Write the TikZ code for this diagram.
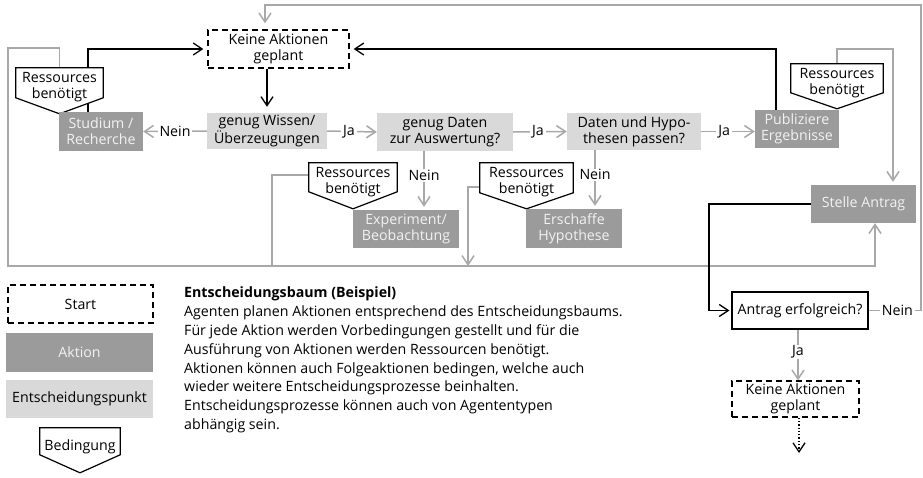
\documentclass[tikz,border=0pt]{standalone}
\usepackage{fontspec}
\setmainfont{Open Sans}
\usetikzlibrary{arrows.meta,calc}

\definecolor{actfill}{HTML}{9B9B9B}
\definecolor{acttext}{HTML}{F2F2F2}
\definecolor{decfill}{HTML}{D9D9D9}
\definecolor{flow}{HTML}{A8A8A8}

\pgfdeclarelayer{canvas}
\pgfdeclarelayer{back}
\pgfdeclarelayer{mid}
\pgfsetlayers{canvas,back,mid,main}

% outline of a condition shape (box with a downward point) around a text node
% #1 node, #2 height of the straight sides, #3 depth of the point
\newcommand\condoutline[3]{%
  \begin{pgfonlayer}{mid}
    \draw[condline] (#1.north west) -- (#1.north east) -- ([yshift=-#2]#1.north east)
      -- ([yshift=-#3]#1.north) -- ([yshift=-#2]#1.north west) -- cycle;
  \end{pgfonlayer}}

\begin{document}
\begin{tikzpicture}[x=1pt,y=-1pt,
  every node/.style={font=\fontsize{14.2}{16}\selectfont, align=center, inner sep=0pt},
  startbox/.style={draw=black, line width=1.3pt, dash pattern=on 6pt off 4pt, fill=white},
  actbox/.style={fill=actfill, text=acttext},
  decbox/.style={fill=decfill, text=black},
  askbox/.style={draw=black, line width=1.2pt, fill=white},
  condtext/.style={minimum height=38pt},
  condline/.style={draw=black, line width=1.2pt, fill=white, line join=miter},
  gline/.style={draw=flow, line width=1.5pt},
  garrow/.style={gline, -{Straight Barb[length=9pt,width=12pt]}},
  bline/.style={draw=black, line width=1.3pt},
  barrow/.style={bline, -{Straight Barb[length=9pt,width=12pt]}},
  lbl/.style={fill=white, inner xsep=2pt, inner ysep=1pt, text=black}]

\useasboundingbox (0,0) rectangle (923,477);
\begin{pgfonlayer}{canvas}
  \fill[white] (0,0) rectangle (923,477);
\end{pgfonlayer}

% ---- decision tree ----
\node[startbox, minimum width=141pt, minimum height=38pt] (keine1) at (278.5,49) {Keine Aktionen\\geplant};
\node[decbox, minimum width=120pt, minimum height=36pt] (wissen) at (267,131) {genug Wissen/\\Überzeugungen};
\node[actbox, minimum width=84pt, minimum height=39pt] (stud) at (101,131.5) {Studium /\\Recherche};
\node[decbox, minimum width=136pt, minimum height=38pt] (daten) at (445,132) {genug Daten\\zur Auswertung?};
\node[decbox, minimum width=134pt, minimum height=37pt] (hypo) at (634,131.5) {Daten und Hypo-\\thesen passen?};
\node[actbox, minimum width=84pt, minimum height=38pt] (publ) at (797,129) {Publiziere\\Ergebnisse};
\node[actbox, minimum width=106pt, minimum height=38pt] (exper) at (406,229) {Experiment/\\Beobachtung};
\node[actbox, minimum width=96pt, minimum height=39pt] (erschaffe) at (574,228.5) {Erschaffe\\Hypothese};
\node[actbox, minimum width=105pt, minimum height=38pt] (stelle) at (863.5,204) {Stelle Antrag};
\node[askbox, minimum width=136pt, minimum height=37pt] (antrag) at (800,310.5) {Antrag erfolgreich?};
\node[startbox, minimum width=127pt, minimum height=36pt] (keine2) at (795.5,399) {Keine Aktionen\\geplant};
\coordinate (weiter) at (799,453);

% resource conditions
\node[condtext, minimum width=87pt] (res1) at (59.5,87) {Ressources\\benötigt};
\condoutline{res1}{30pt}{46pt}
\node[condtext, minimum width=88pt] (res2) at (353,182) {Ressources\\benötigt};
\condoutline{res2}{29pt}{46pt}
\node[condtext, minimum width=93pt] (res3) at (526.5,182) {Ressources\\benötigt};
\condoutline{res3}{30pt}{46pt}
\node[condtext, minimum width=92pt] (res4) at (837,83) {Ressources\\benötigt};
\condoutline{res4}{29pt}{45pt}

% ---- legend ----
\node[startbox, minimum width=145pt, minimum height=38pt] (lstart) at (80.5,304) {Start};
\node[actbox, minimum width=147pt, minimum height=39pt] (laktion) at (79.5,352.5) {Aktion};
\node[decbox, minimum width=147pt, minimum height=38pt] (lentsch) at (79.5,399) {Entscheidungspunkt};
\node[condtext, minimum width=80pt] (lbed) at (80,447) {Bedingung};
\condoutline{lbed}{27pt}{45pt}

\node[anchor=north west, align=left, font=\fontsize{14.2}{18.8}\selectfont] (desc) at (184,287)
  {\textbf{Entscheidungsbaum (Beispiel)}\\
   Agenten planen Aktionen entsprechend des Entscheidungsbaums.\\
   Für jede Aktion werden Vorbedingungen gestellt und für die\\
   Ausführung von Aktionen werden Ressourcen benötigt.\\
   Aktionen können auch Folgeaktionen bedingen, welche auch\\
   wieder weitere Entscheidungsprozesse beinhalten.\\
   Entscheidungsprozesse können auch von Agententypen\\
   abhängig sein.};

% ---- connectors ----
\begin{pgfonlayer}{back}
  % decisions
  \draw[barrow, shorten >=6pt] (wissen.north |- keine1.south) -- (wissen.north);
  \draw[garrow] (wissen.west) -- node[lbl, pos=0.5] {Nein} (stud.east);
  \draw[garrow] (wissen.east) -- node[lbl, pos=0.44] {Ja} (daten.west);
  \draw[garrow] (daten.east) -- node[lbl, pos=0.46] {Ja} (hypo.west);
  \draw[garrow] (hypo.east) -- node[lbl, pos=0.43] {Ja} (publ.west |- hypo.east);
  \draw[garrow, shorten >=3pt] ([xshift=-21pt]daten.south) -- node[lbl, pos=0.41] {Nein} ([xshift=18pt]exper.north);
  \draw[garrow, shorten >=3pt] ([xshift=-39pt]hypo.south) -- node[lbl, pos=0.42] {Nein} ([xshift=21pt]erschaffe.north);
  % actions back to the start
  \draw[barrow, shorten >=4pt] ([xshift=-13pt]stud.north) |- (keine1.west);
  \draw[barrow, shorten >=4pt] ([xshift=-21pt]publ.north) |- (keine1.east);
  % resources feed the application
  \draw[garrow] (res1.north) |- (8,48) -- (8,266) -| ([xshift=11.5pt]stelle.south);
  \draw[gline] ([yshift=7pt]res2.west) -| (272,266);
  \draw[garrow] ([yshift=-5pt]res3.west) -| (468,266);
  \draw[garrow, shorten >=3pt] (res4.north) |- (893,49) -- ([xshift=29.5pt]stelle.north);
  % application
  \draw[barrow, shorten >=2pt] (stelle.west) -- (709,204) |- (antrag.west);
  \draw[garrow] ([xshift=-2pt]antrag.south) -- node[lbl, pos=0.44] {Ja} ([xshift=2.5pt]keine2.north);
  \draw[garrow, shorten >=6pt] (antrag.east) -- node[lbl, pos=0.55] {Nein} (921,310.5) -- (921,5) -- (265,5)
    -- ([xshift=-13.5pt]keine1.north);
  \draw[bline, dotted, line width=1.3pt, -{Straight Barb[length=9pt,width=12pt]}] ([xshift=3.5pt]keine2.south) -- (weiter);
\end{pgfonlayer}
\end{tikzpicture}
\end{document}
